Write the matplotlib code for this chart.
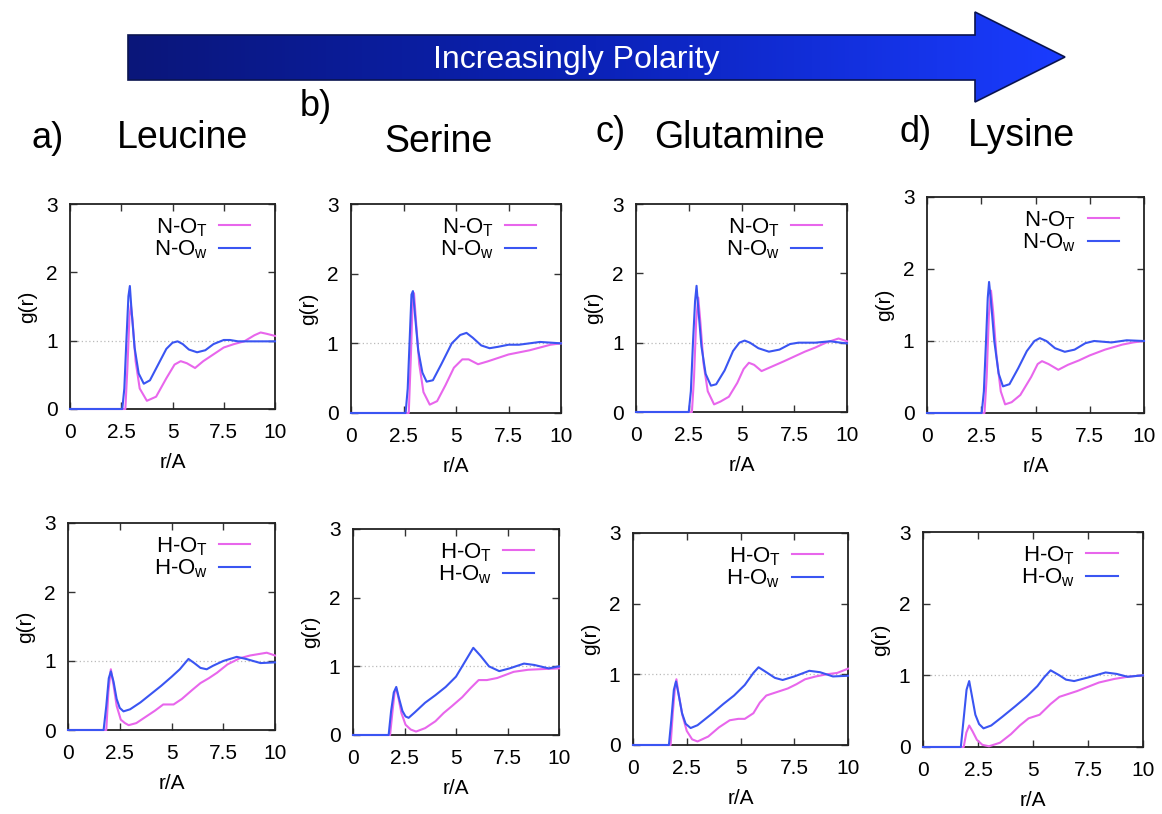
import numpy as np
import matplotlib
matplotlib.use("Agg")
import matplotlib.pyplot as plt
from matplotlib.patches import Polygon
from matplotlib.colors import LinearSegmentedColormap

plt.rcParams['font.family'] = ['Liberation Sans', 'DejaVu Sans']
plt.rcParams['mathtext.default'] = 'regular'

# ---- data: g(r) curves ----
# a) Leucine, N
leu_NT_r = [0, 2.7, 2.8, 2.9, 2.97, 3.05, 3.2, 3.4, 3.75, 4.2, 4.7, 5.1, 5.4, 5.7, 6.1, 6.5, 7.0, 7.5, 8.0, 8.5, 9.0, 9.3, 9.6, 10]
leu_NT_g = [0, 0, 0.6, 1.35, 1.52, 1.3, 0.7, 0.3, 0.12, 0.18, 0.45, 0.65, 0.7, 0.67, 0.6, 0.7, 0.8, 0.9, 0.95, 0.99, 1.08, 1.12, 1.1, 1.07]
leu_NW_r = [0, 2.55, 2.65, 2.75, 2.85, 2.92, 3.0, 3.15, 3.35, 3.6, 3.9, 4.3, 4.7, 5.0, 5.25, 5.5, 5.8, 6.2, 6.6, 7.0, 7.5, 7.8, 8.2, 9.0, 10]
leu_NW_g = [0, 0, 0.3, 1.0, 1.65, 1.8, 1.45, 0.9, 0.52, 0.37, 0.42, 0.65, 0.88, 0.97, 0.99, 0.95, 0.87, 0.83, 0.86, 0.95, 1.01, 1.01, 0.99, 0.99, 0.99]
# b) Serine, N
ser_NT_r = [0, 2.75, 2.85, 2.93, 3.0, 3.1, 3.25, 3.45, 3.75, 4.1, 4.5, 4.9, 5.3, 5.6, 6.05, 6.5, 7.0, 7.5, 8.0, 8.5, 9.0, 9.5, 10]
ser_NT_g = [0, 0, 0.8, 1.55, 1.72, 1.3, 0.7, 0.3, 0.12, 0.17, 0.4, 0.65, 0.77, 0.77, 0.7, 0.74, 0.79, 0.84, 0.87, 0.9, 0.94, 0.98, 1.0]
ser_NW_r = [0, 2.6, 2.7, 2.8, 2.88, 2.95, 3.05, 3.2, 3.4, 3.6, 3.9, 4.3, 4.8, 5.2, 5.5, 5.8, 6.2, 6.6, 7.0, 7.5, 8.0, 8.5, 9.0, 9.5, 10]
ser_NW_g = [0, 0, 0.35, 1.1, 1.7, 1.75, 1.4, 0.9, 0.58, 0.45, 0.47, 0.7, 1.0, 1.12, 1.15, 1.08, 0.97, 0.93, 0.95, 0.98, 0.98, 1.0, 1.02, 1.01, 1.0]
# c) Glutamine, N
glu_NT_r = [0, 2.65, 2.75, 2.85, 2.95, 3.05, 3.2, 3.4, 3.7, 4.0, 4.4, 4.8, 5.1, 5.35, 5.6, 5.95, 6.4, 7.0, 7.5, 8.0, 8.5, 9.0, 9.4, 9.6, 10]
glu_NT_g = [0, 0, 0.5, 1.3, 1.65, 1.3, 0.7, 0.3, 0.11, 0.15, 0.22, 0.42, 0.62, 0.71, 0.68, 0.59, 0.65, 0.73, 0.8, 0.87, 0.93, 1.0, 1.04, 1.06, 1.02]
glu_NW_r = [0, 2.5, 2.6, 2.7, 2.8, 2.87, 2.95, 3.1, 3.3, 3.55, 3.8, 4.2, 4.6, 4.9, 5.15, 5.4, 5.8, 6.3, 6.8, 7.3, 7.7, 8.5, 9.2, 9.7, 10]
glu_NW_g = [0, 0, 0.3, 1.0, 1.6, 1.82, 1.5, 0.95, 0.55, 0.38, 0.4, 0.6, 0.88, 1.0, 1.03, 1.0, 0.92, 0.87, 0.9, 0.98, 1.0, 1.0, 1.02, 1.0, 0.99]
# d) Lysine, N
lys_NT_r = [0, 2.65, 2.75, 2.85, 2.95, 3.05, 3.2, 3.4, 3.6, 3.9, 4.3, 4.8, 5.1, 5.3, 5.6, 6.05, 6.5, 7.0, 7.5, 8.2, 9.0, 9.5, 10]
lys_NT_g = [0, 0, 0.5, 1.35, 1.7, 1.4, 0.8, 0.3, 0.12, 0.15, 0.25, 0.5, 0.68, 0.72, 0.68, 0.6, 0.67, 0.73, 0.8, 0.88, 0.95, 0.98, 1.0]
lys_NW_r = [0, 2.52, 2.62, 2.72, 2.8, 2.86, 2.95, 3.1, 3.3, 3.5, 3.8, 4.2, 4.6, 4.95, 5.2, 5.5, 5.9, 6.35, 6.8, 7.3, 7.7, 8.5, 9.2, 10]
lys_NW_g = [0, 0, 0.3, 1.0, 1.6, 1.82, 1.55, 1.0, 0.55, 0.37, 0.4, 0.62, 0.86, 1.0, 1.04, 1.0, 0.9, 0.85, 0.88, 0.97, 1.0, 0.98, 1.01, 1.0]

# a) Leucine, H
leu_HT_r = [0, 1.85, 1.95, 2.07, 2.2, 2.35, 2.55, 2.75, 2.93, 3.3, 3.8, 4.2, 4.6, 5.1, 5.5, 6.0, 6.4, 6.8, 7.2, 7.7, 8.3, 8.8, 9.2, 9.6, 10]
leu_HT_g = [0, 0, 0.55, 0.88, 0.65, 0.35, 0.15, 0.1, 0.07, 0.1, 0.2, 0.28, 0.37, 0.37, 0.45, 0.58, 0.68, 0.75, 0.83, 0.95, 1.04, 1.08, 1.1, 1.12, 1.08]
leu_HW_r = [0, 1.72, 1.85, 1.97, 2.07, 2.2, 2.35, 2.5, 2.68, 3.0, 3.5, 4.0, 4.5, 5.0, 5.4, 5.82, 6.1, 6.4, 6.7, 7.0, 7.5, 8.15, 8.6, 9.3, 10]
leu_HW_g = [0, 0, 0.35, 0.75, 0.85, 0.7, 0.45, 0.32, 0.27, 0.3, 0.4, 0.52, 0.64, 0.77, 0.88, 1.03, 0.97, 0.9, 0.88, 0.93, 1.0, 1.06, 1.03, 0.97, 0.98]
# b) Serine, H
ser_HT_r = [0, 1.8, 1.92, 2.02, 2.1, 2.2, 2.35, 2.55, 2.8, 3.06, 3.5, 4.0, 4.4, 4.8, 5.3, 5.7, 6.1, 6.5, 7.0, 7.8, 8.5, 9.2, 10]
ser_HT_g = [0, 0, 0.35, 0.62, 0.68, 0.55, 0.32, 0.15, 0.08, 0.05, 0.1, 0.2, 0.32, 0.42, 0.55, 0.68, 0.8, 0.8, 0.83, 0.92, 0.95, 0.96, 0.97]
ser_HW_r = [0, 1.73, 1.85, 1.98, 2.1, 2.22, 2.4, 2.55, 2.7, 3.0, 3.5, 4.0, 4.5, 5.0, 5.4, 5.84, 6.2, 6.6, 7.1, 7.6, 8.3, 8.8, 9.5, 10]
ser_HW_g = [0, 0, 0.35, 0.62, 0.7, 0.55, 0.35, 0.27, 0.25, 0.33, 0.47, 0.58, 0.7, 0.85, 1.05, 1.27, 1.15, 1.0, 0.93, 0.97, 1.04, 1.02, 0.97, 1.0]
# c) Glutamine, H
glu_HT_r = [0, 1.75, 1.85, 1.95, 2.02, 2.12, 2.3, 2.5, 2.75, 3.0, 3.5, 4.0, 4.5, 4.9, 5.2, 5.6, 5.9, 6.2, 6.7, 7.2, 7.6, 8.0, 8.5, 9.0, 9.5, 10]
glu_HT_g = [0, 0, 0.45, 0.8, 0.93, 0.72, 0.42, 0.2, 0.08, 0.05, 0.12, 0.25, 0.35, 0.37, 0.37, 0.45, 0.6, 0.7, 0.75, 0.8, 0.86, 0.93, 0.97, 1.0, 1.02, 1.08]
glu_HW_r = [0, 1.67, 1.78, 1.9, 2.0, 2.12, 2.28, 2.45, 2.68, 3.0, 3.7, 4.2, 4.7, 5.2, 5.6, 5.84, 6.2, 6.6, 6.96, 7.5, 8.2, 8.7, 9.3, 10]
glu_HW_g = [0, 0, 0.35, 0.78, 0.9, 0.72, 0.45, 0.3, 0.24, 0.28, 0.45, 0.58, 0.7, 0.85, 1.02, 1.1, 1.03, 0.95, 0.92, 0.97, 1.05, 1.03, 0.97, 0.98]
# d) Lysine, H
lys_HT_r = [0, 1.85, 1.97, 2.1, 2.25, 2.45, 2.7, 3.0, 3.5, 4.0, 4.4, 4.8, 5.3, 5.8, 6.2, 6.6, 7.0, 7.5, 8.0, 8.7, 9.3, 10]
lys_HT_g = [0, 0, 0.2, 0.3, 0.22, 0.1, 0.03, 0.01, 0.06, 0.18, 0.3, 0.4, 0.45, 0.6, 0.7, 0.74, 0.78, 0.84, 0.9, 0.95, 0.98, 1.0]
lys_HW_r = [0, 1.72, 1.85, 1.98, 2.1, 2.22, 2.38, 2.55, 2.75, 3.1, 3.6, 4.2, 4.7, 5.2, 5.5, 5.8, 6.2, 6.5, 6.87, 7.5, 8.3, 8.8, 9.3, 10]
lys_HW_g = [0, 0, 0.4, 0.8, 0.92, 0.72, 0.45, 0.32, 0.26, 0.3, 0.42, 0.57, 0.7, 0.85, 0.97, 1.07, 1.0, 0.94, 0.92, 0.97, 1.04, 1.02, 0.98, 1.0]

letters = ['a)', 'b)', 'c)', 'd)']
names = ['Leucine', 'Serine', 'Glutamine', 'Lysine']
x_ticks = [0, 2.5, 5, 7.5, 10]
x_ticklabels = ['0', '2.5', '5', '7.5', '10']
y_ticks = [0, 1, 2, 3]

top_row = [(leu_NT_r, leu_NT_g, leu_NW_r, leu_NW_g),
           (ser_NT_r, ser_NT_g, ser_NW_r, ser_NW_g),
           (glu_NT_r, glu_NT_g, glu_NW_r, glu_NW_g),
           (lys_NT_r, lys_NT_g, lys_NW_r, lys_NW_g)]
bot_row = [(leu_HT_r, leu_HT_g, leu_HW_r, leu_HW_g),
           (ser_HT_r, ser_HT_g, ser_HW_r, ser_HW_g),
           (glu_HT_r, glu_HT_g, glu_HW_r, glu_HW_g),
           (lys_HT_r, lys_HT_g, lys_HW_r, lys_HW_g)]

pink = '#e866ec'
blue = '#3a55f2'

W, H = 1162, 814
fig = plt.figure(figsize=(W / 100, H / 100), dpi=100)

# axes boxes in pixels: left, top, right, bottom
boxes_top = [(70, 204, 275, 409), (351, 204, 561, 413), (636, 204, 847, 412), (927, 197, 1144, 413)]
boxes_bot = [(68, 523, 275, 730), (353, 529, 559, 735), (633, 533, 848, 745), (923, 532, 1143, 747)]

# background axes in pixel coordinates for the arrow and titles
bg = fig.add_axes([0, 0, 1, 1])
bg.set_xlim(0, W)
bg.set_ylim(H, 0)
bg.axis('off')

arrow_pts = [(128, 35), (975, 35), (975, 12), (1065, 57), (975, 102), (975, 80), (128, 80)]
cmap = LinearSegmentedColormap.from_list('arr', ['#0a167a', '#0b22b8', '#1a3cff'])
grad = np.linspace(0, 1, 256).reshape(1, -1)
im = bg.imshow(grad, cmap=cmap, extent=(128, 1065, 102, 12), aspect='auto', zorder=1)
poly = Polygon(arrow_pts, closed=True, facecolor='none', edgecolor='#0a1450', lw=1.2, zorder=2)
bg.add_patch(poly)
im.set_clip_path(poly)
bg.text(576, 60, 'Increasingly Polarity', color='white', fontsize=23, ha='center', va='center', zorder=3)

letter_pos = [(48, 138), (316, 106), (611, 132), (916, 132)]
name_pos = [(182, 138), (438, 142), (739, 138), (1021, 136)]
for i in range(4):
    bg.text(*letter_pos[i], letters[i], fontsize=26, ha='center', va='center')
    bg.text(*name_pos[i], names[i], fontsize=27, ha='center', va='center')


def panel(box, data, prefix):
    l, t, r, b = box
    ax = fig.add_axes([l / W, 1 - b / H, (r - l) / W, (b - t) / H])
    rt, gt, rw, gw = data
    ax.axhline(1, color='#bbbbbb', lw=0.9, ls=(0, (1, 2)), zorder=1)
    ax.plot(rt, gt, color=pink, lw=1.5, label=prefix + '-O$_T$', zorder=4, clip_on=False)
    ax.plot(rw, gw, color=blue, lw=1.5, label=prefix + '-O$_w$', zorder=4, clip_on=False)
    ax.set_xlim(0, 10)
    ax.set_ylim(0, 3)
    ax.set_xticks(x_ticks)
    ax.set_xticklabels(x_ticklabels)
    ax.set_yticks(y_ticks)
    ax.tick_params(direction='in', top=True, right=True, length=5, width=1,
                   labelsize=15, color='#333333')
    ax.tick_params(axis='x', pad=10)
    ax.tick_params(axis='y', pad=9)
    for s in ax.spines.values():
        s.set_linewidth(1.3)
        s.set_color('#222222')
    ax.set_xlabel('r/A', fontsize=15, labelpad=8)
    ax.set_ylabel('g(r)', fontsize=15, labelpad=6)
    ax.legend(loc='upper right', bbox_to_anchor=(0.94, 1.0), frameon=False, markerfirst=False,
              fontsize=16, handlelength=1.4, handletextpad=0.5, labelspacing=0.0,
              borderaxespad=0.15)
    return ax


for i in range(4):
    panel(boxes_top[i], top_row[i], 'N')
    panel(boxes_bot[i], bot_row[i], 'H')

fig.savefig('out.png', dpi=100)
